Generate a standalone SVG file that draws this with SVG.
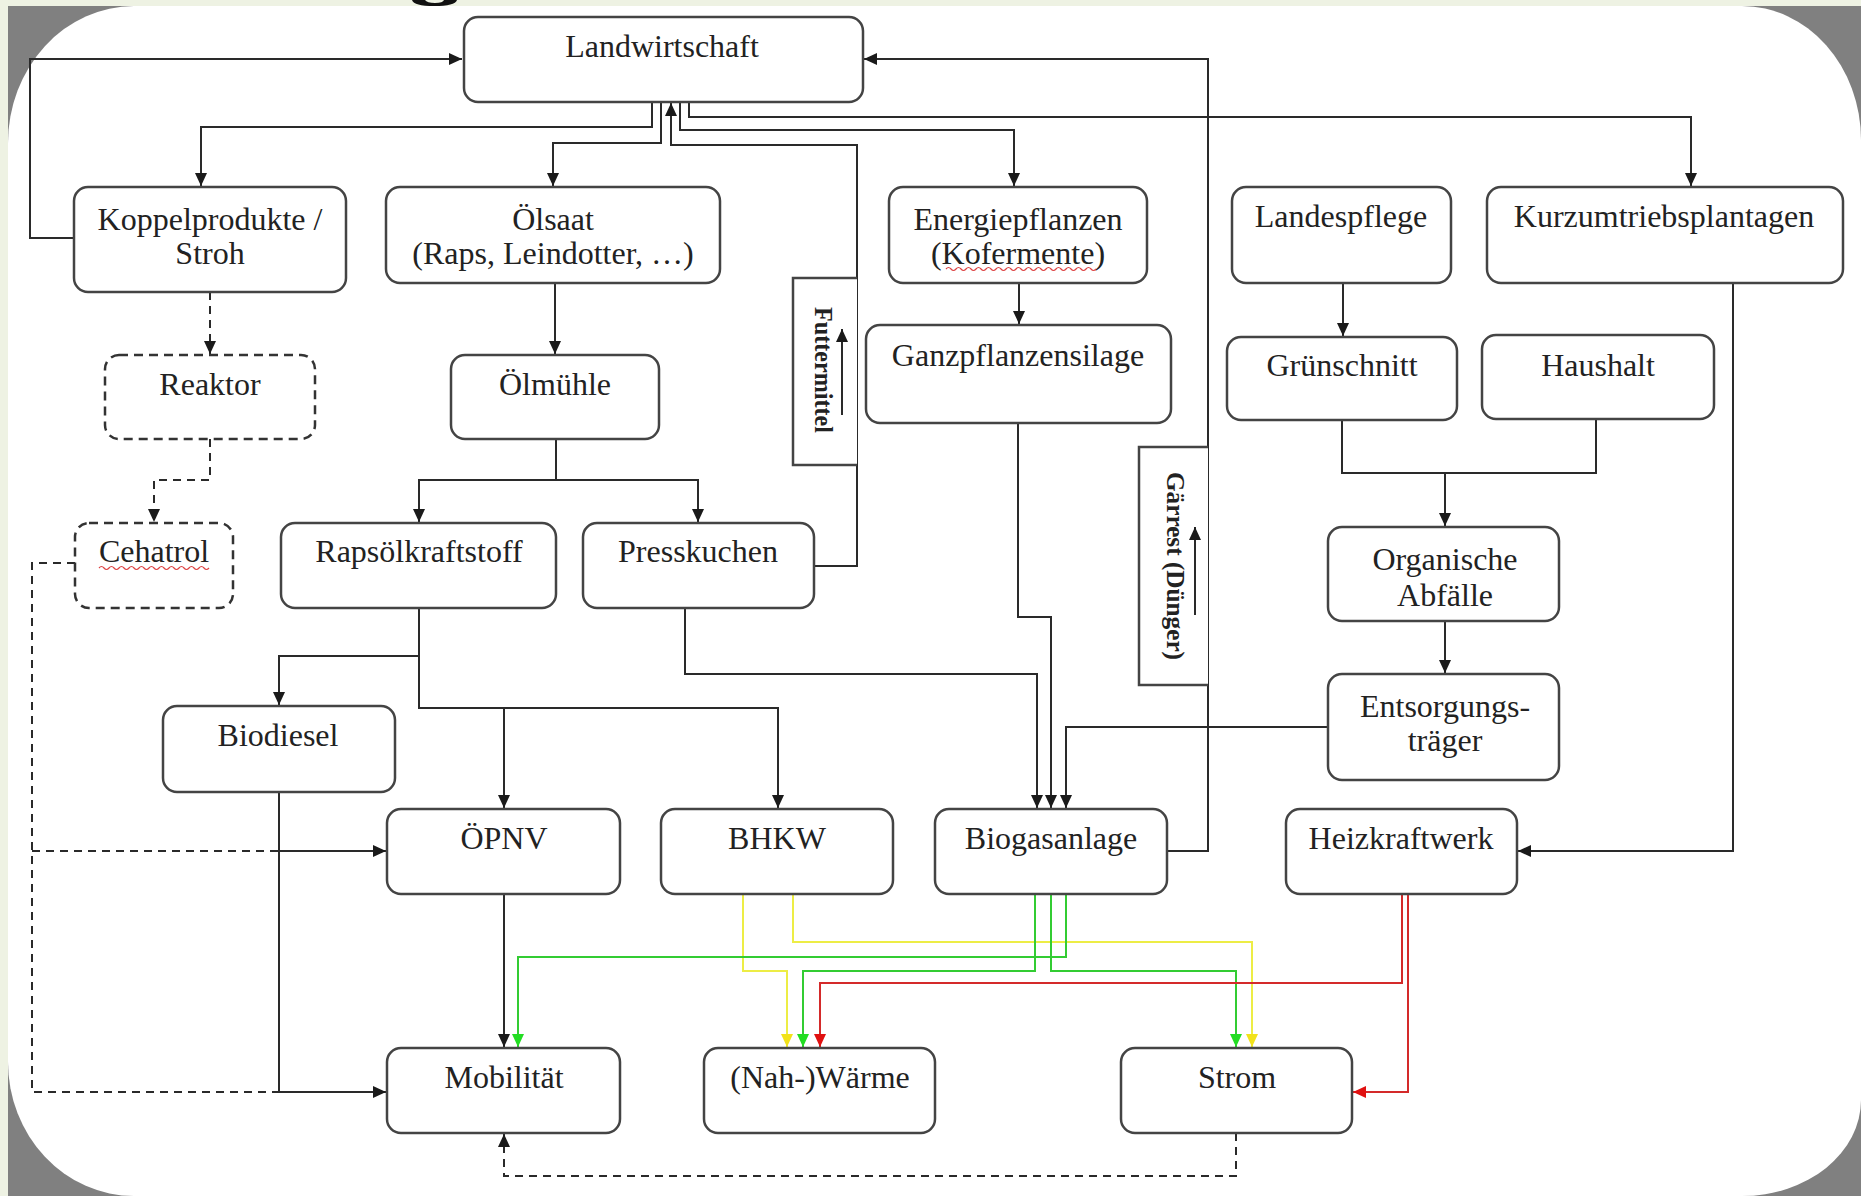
<svg xmlns="http://www.w3.org/2000/svg" width="1861" height="1196" viewBox="0 0 1861 1196">
<style>
.box{fill:#fff;stroke:#444;stroke-width:2.5}
.dbox{fill:#fff;stroke:#333;stroke-width:2.5;stroke-dasharray:9 6}
.lbl{fill:#fff;stroke:#444;stroke-width:2.5}
.t{font-family:"Liberation Serif","Times New Roman",serif;font-size:32px;fill:#222;text-anchor:middle}
.tv{font-family:"Liberation Serif","Times New Roman",serif;font-size:26px;font-weight:bold;fill:#222;text-anchor:middle}
.c{fill:none;stroke:#2a2a2a;stroke-width:2}
.cd{fill:none;stroke:#2a2a2a;stroke-width:2;stroke-dasharray:8 6}
.cy{fill:none;stroke:#eded45;stroke-width:2}
.cg{fill:none;stroke:#33cc33;stroke-width:2}
.cr{fill:none;stroke:#d42a2a;stroke-width:2}
.wave{fill:none;stroke:#d44;stroke-width:1.2}
</style>
<defs>
<marker id="ab" markerUnits="userSpaceOnUse" markerWidth="14" markerHeight="12" refX="13" refY="6" orient="auto"><path d="M0,0 L13,6 L0,12 z" fill="#1a1a1a"/></marker>
<marker id="ay" markerUnits="userSpaceOnUse" markerWidth="14" markerHeight="12" refX="13" refY="6" orient="auto"><path d="M0,0 L13,6 L0,12 z" fill="#f2e21a"/></marker>
<marker id="ag" markerUnits="userSpaceOnUse" markerWidth="14" markerHeight="12" refX="13" refY="6" orient="auto"><path d="M0,0 L13,6 L0,12 z" fill="#22dd22"/></marker>
<marker id="ar" markerUnits="userSpaceOnUse" markerWidth="14" markerHeight="12" refX="13" refY="6" orient="auto"><path d="M0,0 L13,6 L0,12 z" fill="#e01010"/></marker>
</defs>

<g id="background">
<rect x="0" y="0" width="1861" height="1196" fill="#eef2e3"/>
<rect x="8" y="6" width="1853" height="1190" fill="#808080"/>
<path d="M134,6 L1742,6 A119,134 0 0 1 1861,140 L1861,1100 A119,96 0 0 1 1742,1196 L134,1196 A126,134 0 0 1 8,1062 L8,143 A126,137 0 0 1 134,6 Z" fill="#ffffff"/>
<path d="M412,0 L425,0 Q427,3 435,3 Q443,3 444,0 L457,0 Q455,6 434,6 Q414,6 412,0 Z" fill="#111"/>
</g>

<g id="connectors">
<path class="c" d="M74,238 H30 V59 H462" marker-end="url(#ab)"/>
<path class="c" d="M652,102 V127 H201 V186" marker-end="url(#ab)"/>
<path class="c" d="M661,102 V143 H553 V186" marker-end="url(#ab)"/>
<path class="c" d="M814,566 H857 V145 H671 V103" marker-end="url(#ab)"/>
<path class="c" d="M680,102 V130 H1014 V186" marker-end="url(#ab)"/>
<path class="c" d="M689,102 V117 H1691 V186" marker-end="url(#ab)"/>
<path class="c" d="M1167,851 H1208 V59 H864" marker-end="url(#ab)"/>
<path class="cd" d="M210,292 V354" marker-end="url(#ab)"/>
<path class="cd" d="M210,439 V480 H154 V522" marker-end="url(#ab)"/>
<path class="c" d="M555,283 V354" marker-end="url(#ab)"/>
<path class="c" d="M556,439 V480 H419 V522" marker-end="url(#ab)"/>
<path class="c" d="M556,480 H698 V522" marker-end="url(#ab)"/>
<path class="c" d="M1019,283 V324" marker-end="url(#ab)"/>
<path class="c" d="M1343,283 V336" marker-end="url(#ab)"/>
<path class="c" d="M1342,420 V473 H1596 V419"/>
<path class="c" d="M1445,473 V526" marker-end="url(#ab)"/>
<path class="c" d="M1445,621 V673" marker-end="url(#ab)"/>
<path class="c" d="M1733,283 V851 H1518" marker-end="url(#ab)"/>
<path class="c" d="M419,608 V656 H279 V705" marker-end="url(#ab)"/>
<path class="c" d="M419,656 V708 H778 V808" marker-end="url(#ab)"/>
<path class="c" d="M504,708 V808" marker-end="url(#ab)"/>
<path class="c" d="M279,792 V1092 H386" marker-end="url(#ab)"/>
<path class="c" d="M279,851 H386" marker-end="url(#ab)"/>
<path class="cd" d="M75,563 H32 V1092 H279"/>
<path class="cd" d="M32,851 H279"/>
<path class="c" d="M685,608 V674 H1037 V808" marker-end="url(#ab)"/>
<path class="c" d="M1018,423 V617 H1051 V808" marker-end="url(#ab)"/>
<path class="c" d="M1328,727 H1066 V808" marker-end="url(#ab)"/>
<path class="c" d="M504,894 V1047" marker-end="url(#ab)"/>
<path class="cd" d="M1236,1133 V1176 H504 V1134" marker-end="url(#ab)"/>
<path class="cy" d="M743,894 V971 H787 V1047" marker-end="url(#ay)"/>
<path class="cy" d="M793,894 V942 H1252 V1047" marker-end="url(#ay)"/>
<path class="cg" d="M1035,894 V971 H803 V1047" marker-end="url(#ag)"/>
<path class="cg" d="M1051,894 V971 H1236 V1047" marker-end="url(#ag)"/>
<path class="cg" d="M1066,894 V957 H518 V1047" marker-end="url(#ag)"/>
<path class="cr" d="M1402,894 V983 H820 V1047" marker-end="url(#ar)"/>
<path class="cr" d="M1408,894 V1092 H1353" marker-end="url(#ar)"/>
</g>

<g id="landwirtschaft"><rect class="box" x="464" y="17" width="399" height="85" rx="14"/><text class="t" x="662" y="57">Landwirtschaft</text></g>
<g id="koppelprodukte"><rect class="box" x="74" y="187" width="272" height="105" rx="14"/><text class="t" x="210" y="230">Koppelprodukte /</text><text class="t" x="210" y="264">Stroh</text></g>
<g id="oelsaat"><rect class="box" x="386" y="187" width="334" height="96" rx="14"/><text class="t" x="553" y="230">Ölsaat</text><text class="t" x="553" y="264">(Raps, Leindotter, …)</text></g>
<g id="energiepflanzen"><rect class="box" x="889" y="187" width="258" height="96" rx="14"/><text class="t" x="1018" y="230">Energiepflanzen</text><text class="t" x="1018" y="264">(Kofermente)</text><path class="wave" d="M946,269 q2.5,-3 5,0 t5,0 t5,0 t5,0 t5,0 t5,0 t5,0 t5,0 t5,0 t5,0 t5,0 t5,0 t5,0 t5,0 t5,0 t5,0 t5,0 t5,0 t5,0 t5,0 t5,0 t5,0 t5,0 t5,0 t5,0 t5,0 t5,0 t5,0 t5,0 t5,0"/></g>
<g id="landespflege"><rect class="box" x="1232" y="187" width="219" height="96" rx="14"/><text class="t" x="1341" y="227">Landespflege</text></g>
<g id="kurzumtriebsplantagen"><rect class="box" x="1487" y="187" width="356" height="96" rx="14"/><text class="t" x="1664" y="227">Kurzumtriebsplantagen</text></g>
<g id="reaktor"><rect class="dbox" x="105" y="355" width="210" height="84" rx="14"/><text class="t" x="210" y="395">Reaktor</text></g>
<g id="oelmuehle"><rect class="box" x="451" y="355" width="208" height="84" rx="14"/><text class="t" x="555" y="395">Ölmühle</text></g>
<g id="ganzpflanzensilage"><rect class="box" x="866" y="325" width="305" height="98" rx="14"/><text class="t" x="1018" y="366">Ganzpflanzensilage</text></g>
<g id="gruenschnitt"><rect class="box" x="1227" y="337" width="230" height="83" rx="14"/><text class="t" x="1342" y="376">Grünschnitt</text></g>
<g id="haushalt"><rect class="box" x="1482" y="335" width="232" height="84" rx="14"/><text class="t" x="1598" y="376">Haushalt</text></g>
<g id="cehatrol"><rect class="dbox" x="75" y="523" width="158" height="85" rx="14"/><text class="t" x="154" y="562">Cehatrol</text><path class="wave" d="M99,568 q2.5,-3 5,0 t5,0 t5,0 t5,0 t5,0 t5,0 t5,0 t5,0 t5,0 t5,0 t5,0 t5,0 t5,0 t5,0 t5,0 t5,0 t5,0 t5,0 t5,0 t5,0 t5,0 t5,0"/></g>
<g id="rapsoelkraftstoff"><rect class="box" x="281" y="523" width="275" height="85" rx="14"/><text class="t" x="419" y="562">Rapsölkraftstoff</text></g>
<g id="presskuchen"><rect class="box" x="583" y="523" width="231" height="85" rx="14"/><text class="t" x="698" y="562">Presskuchen</text></g>
<g id="organische-abfaelle"><rect class="box" x="1328" y="527" width="231" height="94" rx="14"/><text class="t" x="1445" y="570">Organische</text><text class="t" x="1445" y="606">Abfälle</text></g>
<g id="entsorgungstraeger"><rect class="box" x="1328" y="674" width="231" height="106" rx="14"/><text class="t" x="1445" y="717">Entsorgungs-</text><text class="t" x="1445" y="751">träger</text></g>
<g id="biodiesel"><rect class="box" x="163" y="706" width="232" height="86" rx="14"/><text class="t" x="278" y="746">Biodiesel</text></g>
<g id="oepnv"><rect class="box" x="387" y="809" width="233" height="85" rx="14"/><text class="t" x="504" y="849">ÖPNV</text></g>
<g id="bhkw"><rect class="box" x="661" y="809" width="232" height="85" rx="14"/><text class="t" x="777" y="849">BHKW</text></g>
<g id="biogasanlage"><rect class="box" x="935" y="809" width="232" height="85" rx="14"/><text class="t" x="1051" y="849">Biogasanlage</text></g>
<g id="heizkraftwerk"><rect class="box" x="1286" y="809" width="231" height="85" rx="14"/><text class="t" x="1401" y="849">Heizkraftwerk</text></g>
<g id="mobilitaet"><rect class="box" x="387" y="1048" width="233" height="85" rx="14"/><text class="t" x="504" y="1088">Mobilität</text></g>
<g id="nahwaerme"><rect class="box" x="704" y="1048" width="231" height="85" rx="14"/><text class="t" x="820" y="1088">(Nah-)Wärme</text></g>
<g id="strom"><rect class="box" x="1121" y="1048" width="231" height="85" rx="14"/><text class="t" x="1237" y="1088">Strom</text></g>

<g id="futtermittel-label"><path class="lbl" d="M857,278 H793 V465 H857"/><text class="tv" transform="translate(815,370) rotate(90)" textLength="126" lengthAdjust="spacingAndGlyphs">Futtermittel</text><path class="c" d="M842,415 V329" marker-end="url(#ab)"/></g>
<g id="gaerrest-label"><path class="lbl" d="M1208,447 H1139 V685 H1208"/><text class="tv" transform="translate(1167,566) rotate(90)" textLength="188" lengthAdjust="spacingAndGlyphs">Gärrest (Dünger)</text><path class="c" d="M1195,615 V527" marker-end="url(#ab)"/></g>
</svg>
